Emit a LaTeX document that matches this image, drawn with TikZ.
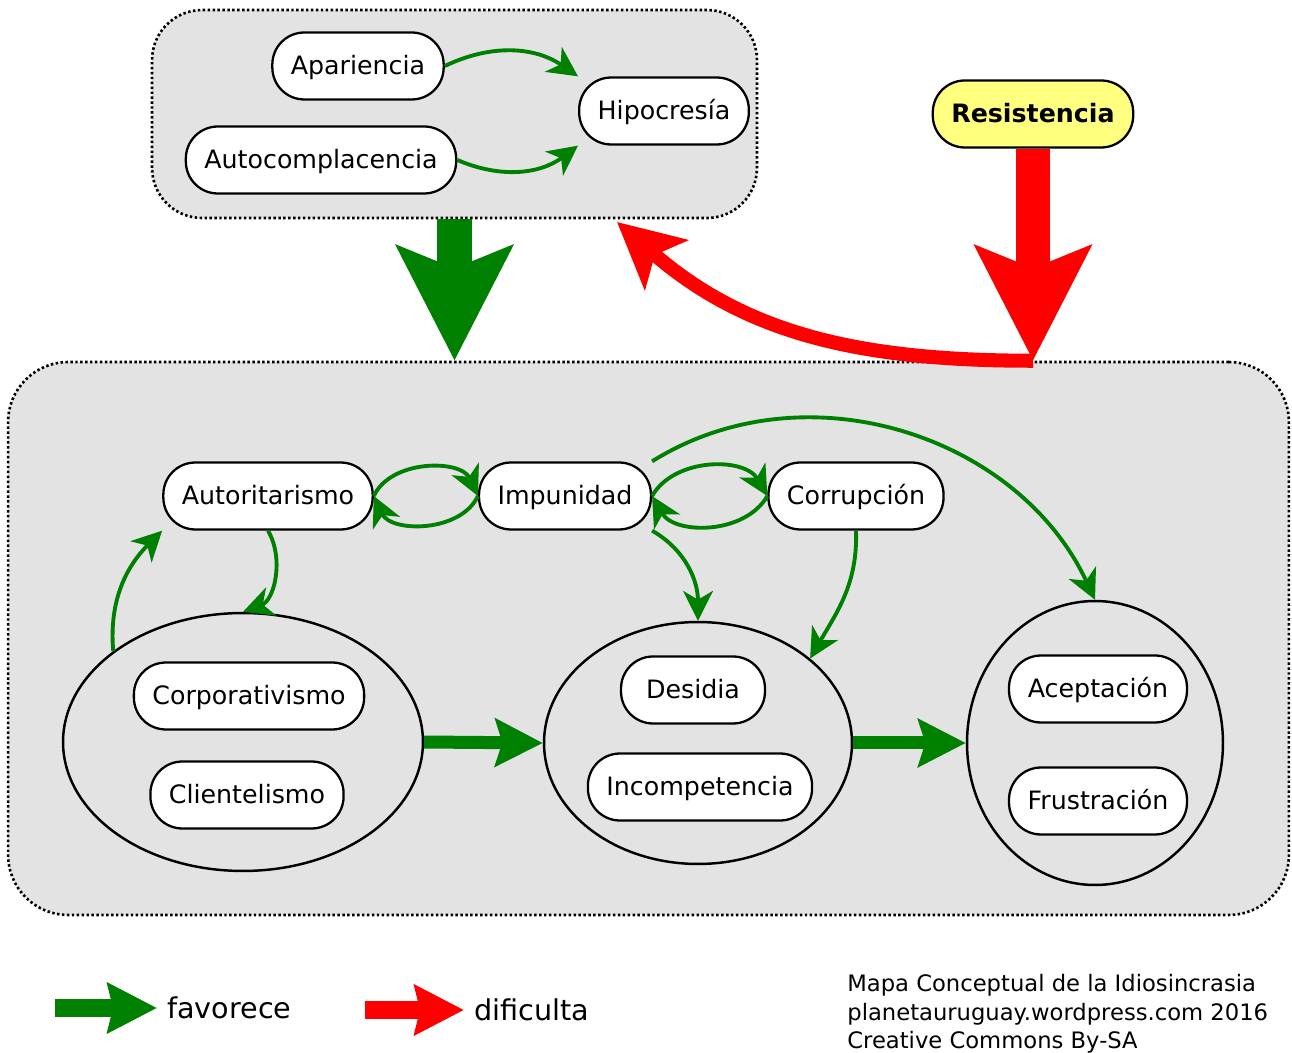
\documentclass[tikz,border=0pt]{standalone}
\usepackage{fontspec}
\setmainfont{DejaVu Sans}
\usetikzlibrary{arrows.meta,shapes.geometric}
\definecolor{favgreen}{RGB}{0,128,0}
\definecolor{difred}{RGB}{255,0,0}
\definecolor{grpgray}{RGB}{227,227,227}
\definecolor{resyellow}{RGB}{255,255,128}
\tikzset{
  pill/.style={draw, line width=1.3pt, fill=white, rounded corners=0.64cm, minimum height=1.34cm, inner xsep=0.37cm, text height=0.95em, text depth=0pt, font=\fontsize{14.4}{17}\selectfont},
  grp/.style={draw, line width=1.5pt, dash pattern=on 1.4pt off 1.4pt, fill=grpgray, rounded corners=1cm},
  blob/.style={draw, ellipse, line width=1.4pt, inner sep=0pt},
  gfav/.style={draw=favgreen, line width=2.2pt, -{Stealth[length=17pt,width=17pt,inset=5pt]}},
  gbig/.style={draw=favgreen, line width=7.4pt, -{Stealth[length=27pt,width=27pt,inset=4pt]}},
  gfat/.style={draw=favgreen, line width=19.9pt, -{Stealth[length=65pt,width=65pt,inset=12.5pt]}},
  rfat/.style={draw=difred, line width=19.9pt, -{Stealth[length=65pt,width=65pt,inset=12.5pt]}},
  rcurve/.style={draw=difred, line width=8pt, -{Stealth[length=37pt,width=37pt,inset=8.5pt]}},
  legarrow/.style={line width=9.7pt, -{Stealth[length=28pt,width=28pt,inset=3pt]}}
}
\begin{document}
\begin{tikzpicture}[x=0.02cm, y=0.02cm]
\useasboundingbox (0,0) rectangle (1292,-1053);
\node[grp, minimum width=12.1cm, minimum height=4.16cm] (topgrp) at (454.5,-114){};
\node[grp, rounded corners=1.2cm, minimum width=25.62cm, minimum height=11.06cm] (botgrp) at (648.5,-638.5){};
\node[blob, minimum width=7.2cm, minimum height=5.16cm] (ell1) at (243,-742){};
\node[blob, minimum width=6.16cm, minimum height=4.84cm] (ell2) at (698,-743){};
\node[blob, minimum width=5.12cm, minimum height=5.68cm] (ell3) at (1095,-743){};
\node[pill] (apa) at (358,-66){Apariencia};
\node[pill] (autoc) at (321,-160){Autocomplacencia};
\node[pill] (hipo) at (664,-111){Hipocresía};
\node[pill, fill=resyellow, font=\fontsize{14.4}{17}\selectfont\bfseries] (res) at (1033,-114){Resistencia};
\node[pill] (autor) at (268,-496){Autoritarismo};
\node[pill] (impu) at (565,-496){Impunidad};
\node[pill] (corr) at (856,-496){Corrupción};
\node[pill] (corpo) at (249,-696){Corporativismo};
\node[pill] (clien) at (247,-795){Clientelismo};
\node[pill, minimum width=2.88cm] (desi) at (693,-690){Desidia};
\node[pill] (incom) at (700,-787){Incompetencia};
\node[pill, minimum width=3.56cm] (acep) at (1098,-689){Aceptación};
\node[pill, minimum width=3.56cm] (frus) at (1098,-801){Frustración};
\draw[gfav] (apa.east) to[bend left=30] (hipo.north west);
\draw[gfav] (autoc.east) to[bend right=30] (hipo.south west);
\draw[gfav] (autor.east) to[bend left=65] (impu.west);
\draw[gfav] (impu.west) to[bend left=65] (autor.east);
\draw[gfav] (impu.east) to[bend left=60] (corr.west);
\draw[gfav] (corr.west) to[bend left=60] (impu.east);
\draw[gfav] (impu.north east) to[out=32,in=115] (ell3.north);
\draw[gfav] (impu.south east) to[out=-30,in=90] (ell2.north);
\draw[gfav] (corr.south) to[out=-88,in=60] (ell2.37);
\draw[gfav] (autor.south) to[out=-60,in=20] (ell1.north);
\draw[gfav] (ell1.145) to[out=95,in=-135] (autor.south west);
\draw[gbig] (ell1.east) -- (ell2.west);
\draw[gbig] (ell2.east) -- (ell3.west);
\draw[gfat] (topgrp.south) -- (topgrp.south |- botgrp.north);
\coordinate (resfoot) at (res.south |- botgrp.north);
\coordinate (hipfoot) at (617,-222);
\draw[rfat] (res.south) -- (resfoot);
\draw[rcurve] (resfoot) to[out=180,in=-41] (hipfoot);
\coordinate (lgfav) at (55,-1008);
\node[anchor=west, inner xsep=0.2cm, font=\fontsize{16.3}{19}\selectfont] (fav) at (157,-1008){favorece};
\draw[legarrow, draw=favgreen] (lgfav) -- (fav.west);
\coordinate (lgdif) at (365,-1010);
\node[anchor=west, inner xsep=0.2cm, font=\fontsize{16.3}{19}\selectfont] (dif) at (464,-1010){dificulta};
\draw[legarrow, draw=difred] (lgdif) -- (dif.west);
\node[anchor=west, align=left, inner sep=0pt, font=\fontsize{12.9}{16.2}\selectfont] (cred) at (847,-1014){Mapa Conceptual de la Idiosincrasia\\planetauruguay.wordpress.com 2016\\Creative Commons By-SA};
\end{tikzpicture}
\end{document}
